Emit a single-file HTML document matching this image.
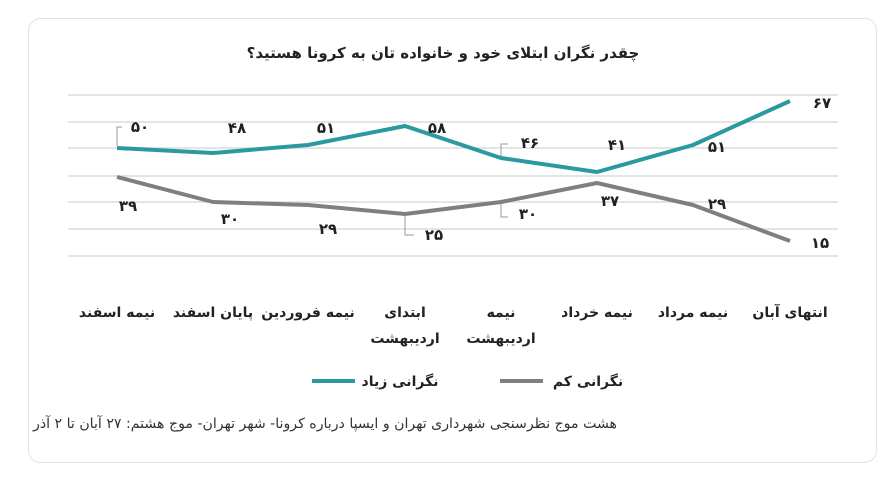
<!DOCTYPE html><html><head><meta charset="utf-8"><style>
body{margin:0;background:#fff;width:888px;height:477px;overflow:hidden;font-family:"Liberation Sans","DejaVu Sans",sans-serif}
</style></head><body>
<svg width="888" height="477" xmlns="http://www.w3.org/2000/svg" font-family="'DejaVu Sans','Liberation Sans',sans-serif">
<rect x="28.5" y="18.5" width="848" height="444" rx="12" fill="#fff" stroke="#e2e2e2"/>
<text x="443" y="58" text-anchor="middle" font-size="15" font-weight="bold" fill="#222">چقدر نگران ابتلای خود و خانواده تان به کرونا هستید؟</text>
<g stroke="#dcdcdc" stroke-width="1.5">
<line x1="68" x2="838" y1="95" y2="95"/><line x1="68" x2="838" y1="122" y2="122"/><line x1="68" x2="838" y1="148" y2="148"/><line x1="68" x2="838" y1="176" y2="176"/><line x1="68" x2="838" y1="202" y2="202"/><line x1="68" x2="838" y1="229" y2="229"/><line x1="68" x2="838" y1="256" y2="256"/>
</g>
<polyline fill="none" stroke="#2a9aa0" stroke-width="4" stroke-linejoin="round" points="117,148 213,153 308,145 405,126 501,158 597,172 693,145 790,101"/>
<polyline fill="none" stroke="#7f7f7f" stroke-width="4" stroke-linejoin="round" points="117,177 213,202 308,205 405,214 501,202 597,183 693,205 790,241"/>
<g stroke="#999" fill="none" stroke-width="1"><path d="M117,146 V127 H122"/><path d="M405,216 V235 H414"/><path d="M501,156 V144 H508"/><path d="M501,204 V217 H508"/></g>
<g font-size="15" font-weight="bold" fill="#222" text-anchor="middle">
<text x="140" y="132">۵۰</text><text x="237" y="133">۴۸</text><text x="326" y="133">۵۱</text><text x="437" y="133">۵۸</text>
<text x="530" y="148">۴۶</text><text x="617" y="150">۴۱</text><text x="717" y="152">۵۱</text><text x="822" y="108">۶۷</text>
<text x="128" y="211">۳۹</text><text x="230" y="224">۳۰</text><text x="328" y="234">۲۹</text><text x="434" y="240">۲۵</text>
<text x="528" y="219">۳۰</text><text x="610" y="206">۳۷</text><text x="717" y="209">۲۹</text><text x="820" y="248">۱۵</text>
</g>
<g font-size="14" font-weight="bold" fill="#222" text-anchor="middle">
<text x="117" y="317">نیمه اسفند</text><text x="213" y="317">پایان اسفند</text><text x="308" y="317">نیمه فروردین</text>
<text x="405" y="317">ابتدای</text><text x="405" y="343">اردیبهشت</text>
<text x="501" y="317">نیمه</text><text x="501" y="343">اردیبهشت</text>
<text x="597" y="317">نیمه خرداد</text><text x="693" y="317">نیمه مرداد</text><text x="790" y="317">انتهای آبان</text>
</g>
<line x1="312" x2="355" y1="381" y2="381" stroke="#2a9aa0" stroke-width="4"/>
<text x="400" y="386" font-size="14" font-weight="bold" text-anchor="middle" fill="#222">نگرانی زیاد</text>
<line x1="500" x2="543" y1="381" y2="381" stroke="#7f7f7f" stroke-width="4"/>
<text x="588" y="386" font-size="14" font-weight="bold" text-anchor="middle" fill="#222">نگرانی کم</text>
<text x="617" y="428" font-size="14" text-anchor="end" fill="#333" textLength="584" lengthAdjust="spacingAndGlyphs">هشت موج نظرسنجی شهرداری تهران و ایسپا درباره کرونا- شهر تهران- موج هشتم: ۲۷ آبان تا ۲ آذر</text>
</svg>
</body></html>
